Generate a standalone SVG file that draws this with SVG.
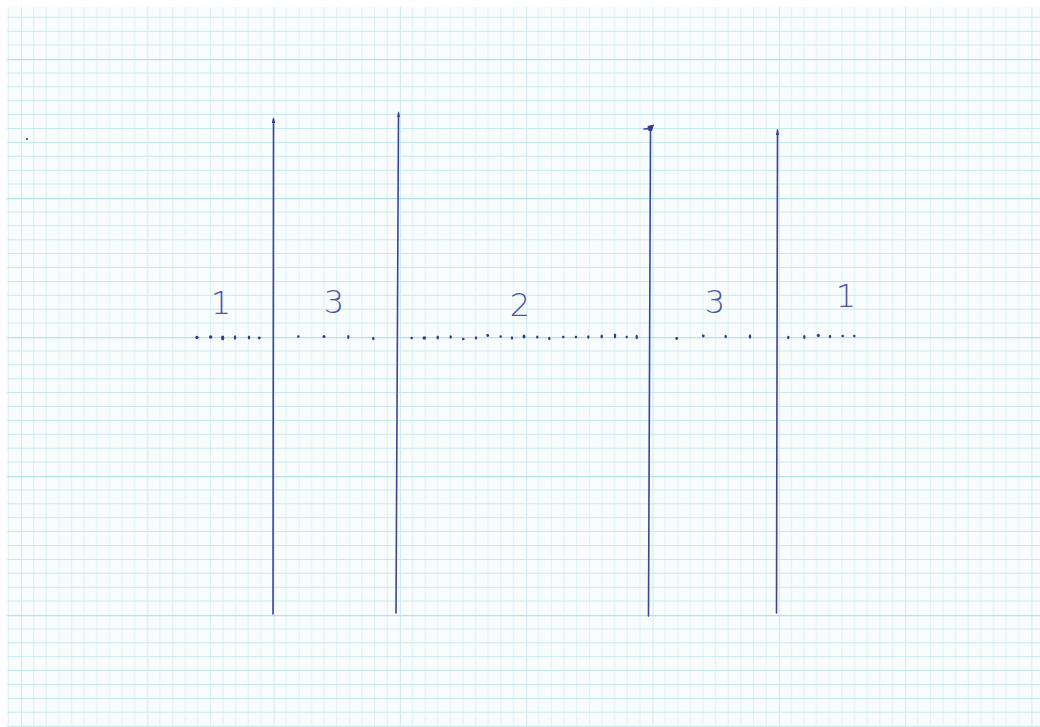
<svg xmlns="http://www.w3.org/2000/svg" width="1040" height="727" viewBox="0 0 1040 727">
  <defs>
    <pattern id="grid" patternUnits="userSpaceOnUse" x="21" y="59" width="126.3" height="139">
      <g stroke="#ddf1f3" stroke-width="1">
        <line x1="12.63" y1="0" x2="12.63" y2="139"/>
        <line x1="25.26" y1="0" x2="25.26" y2="139"/>
        <line x1="37.89" y1="0" x2="37.89" y2="139"/>
        <line x1="50.52" y1="0" x2="50.52" y2="139"/>
        <line x1="63.15" y1="0" x2="63.15" y2="139"/>
        <line x1="75.78" y1="0" x2="75.78" y2="139"/>
        <line x1="88.41" y1="0" x2="88.41" y2="139"/>
        <line x1="101.04" y1="0" x2="101.04" y2="139"/>
        <line x1="113.67" y1="0" x2="113.67" y2="139"/>
      </g>
      <g stroke="#c9eaed" stroke-width="1">
        <line x1="0" y1="13.9" x2="126.3" y2="13.9"/>
        <line x1="0" y1="27.8" x2="126.3" y2="27.8"/>
        <line x1="0" y1="41.7" x2="126.3" y2="41.7"/>
        <line x1="0" y1="55.6" x2="126.3" y2="55.6"/>
        <line x1="0" y1="69.5" x2="126.3" y2="69.5"/>
        <line x1="0" y1="83.4" x2="126.3" y2="83.4"/>
        <line x1="0" y1="97.3" x2="126.3" y2="97.3"/>
        <line x1="0" y1="111.2" x2="126.3" y2="111.2"/>
        <line x1="0" y1="125.1" x2="126.3" y2="125.1"/>
      </g>
      <line x1="0.5" y1="0" x2="0.5" y2="139" stroke="#cdebee" stroke-width="1"/>
      <line x1="0" y1="0.6" x2="126.3" y2="0.6" stroke="#b6e1e5" stroke-width="1.2"/>
    </pattern>
    <style>
      .pen { stroke: #3b42a0; stroke-width: 1.6; fill: none; stroke-linecap: round; }
      .dot { fill: #343a88; }
      .lbl { font-family: "DejaVu Sans", "Liberation Sans", sans-serif; font-weight: 200; font-size: 32px; fill: #4a53a8; text-anchor: middle; }
    </style>
  </defs>

  <g id="paper">
    <rect x="0" y="0" width="1040" height="727" fill="#ffffff"/>
    <rect x="7" y="7" width="1033" height="720" fill="#f8fcfc"/>
    <rect x="7" y="7" width="1033" height="720" fill="url(#grid)"/>
  </g>

  <g id="connectors">
    <path class="pen" d="M273.5 119 L273 614"/>
    <path class="pen" d="M398.5 113 L396 613"/>
    <path class="pen" d="M650.5 128 L648.5 616"/>
    <path class="pen" d="M777.5 130 L776.5 613"/>
    <path d="M271.8 123 L273.5 117 L275.1 123 Z" class="dot"/>
    <path d="M397.2 117 L398.6 111 L399.9 117 Z" class="dot"/>
    <path d="M647.5 126 L654 124.5 L652 131 L648.5 131 Z" class="dot"/>
    <path d="M644 129 L649 128.6" class="pen" stroke-width="0.9"/>
    <path d="M775.9 135 L777.5 129 L779.1 135 Z" class="dot"/>
    <circle cx="27" cy="139" r="1.1" class="dot"/>
  </g>

  <g id="dots" class="dot">
    <circle cx="197" cy="337.5" r="1.7"/>
    <circle cx="210.7" cy="337" r="1.7"/>
    <ellipse cx="222.7" cy="338" rx="1.6" ry="2.4"/>
    <ellipse cx="235" cy="337.5" rx="1.2" ry="2.2"/>
    <ellipse cx="249" cy="337.5" rx="1.2" ry="2"/>
    <circle cx="259.3" cy="338" r="1.4"/>

    <circle cx="298.3" cy="336.5" r="1.3"/>
    <circle cx="324" cy="336.5" r="1.5"/>
    <ellipse cx="348.3" cy="337" rx="1.2" ry="2"/>
    <ellipse cx="373.3" cy="338.5" rx="1.2" ry="1.8"/>

    <circle cx="411.7" cy="338" r="1.3"/>
    <circle cx="424.3" cy="338" r="1.8"/>
    <ellipse cx="437.7" cy="337.5" rx="1.2" ry="2"/>
    <ellipse cx="450.7" cy="337" rx="1.2" ry="1.8"/>
    <circle cx="463.3" cy="339" r="1.3"/>
    <ellipse cx="476" cy="338" rx="1.2" ry="1.8"/>
    <circle cx="487.7" cy="335.5" r="1.4"/>
    <circle cx="500.7" cy="336.5" r="1.2"/>
    <ellipse cx="512" cy="338" rx="1.2" ry="1.8"/>
    <ellipse cx="524" cy="336.5" rx="1.4" ry="2"/>
    <ellipse cx="537.3" cy="337" rx="1.2" ry="1.6"/>
    <ellipse cx="549.3" cy="338.5" rx="1.2" ry="1.8"/>
    <circle cx="563.3" cy="337" r="1.3"/>
    <circle cx="576" cy="337" r="1.3"/>
    <ellipse cx="588.3" cy="337" rx="1.2" ry="1.8"/>
    <ellipse cx="601.7" cy="336.5" rx="1.2" ry="2"/>
    <ellipse cx="615" cy="336" rx="1.2" ry="2.4"/>
    <circle cx="626.7" cy="337" r="1.2"/>
    <ellipse cx="636.7" cy="337" rx="1.2" ry="2.2"/>

    <circle cx="676.7" cy="338.5" r="1.4"/>
    <circle cx="703.3" cy="336" r="1.4"/>
    <ellipse cx="725.7" cy="336.5" rx="1.2" ry="1.8"/>
    <ellipse cx="750" cy="336.5" rx="1.2" ry="2.2"/>

    <ellipse cx="788.3" cy="337.5" rx="1.2" ry="1.8"/>
    <ellipse cx="804.3" cy="337" rx="1.2" ry="2"/>
    <ellipse cx="818.3" cy="335.5" rx="1.5" ry="1.8"/>
    <ellipse cx="830" cy="336.5" rx="1.2" ry="1.8"/>
    <circle cx="842.7" cy="336" r="1.3"/>
    <circle cx="854.3" cy="336" r="1.3"/>
  </g>

  <g id="label-1-left"><text class="lbl" x="221" y="314">1</text></g>
  <g id="label-3-left"><text class="lbl" x="334" y="313">3</text></g>
  <g id="label-2"><text class="lbl" x="520" y="316">2</text></g>
  <g id="label-3-right"><text class="lbl" x="715" y="313">3</text></g>
  <g id="label-1-right"><text class="lbl" x="846" y="307">1</text></g>
</svg>
